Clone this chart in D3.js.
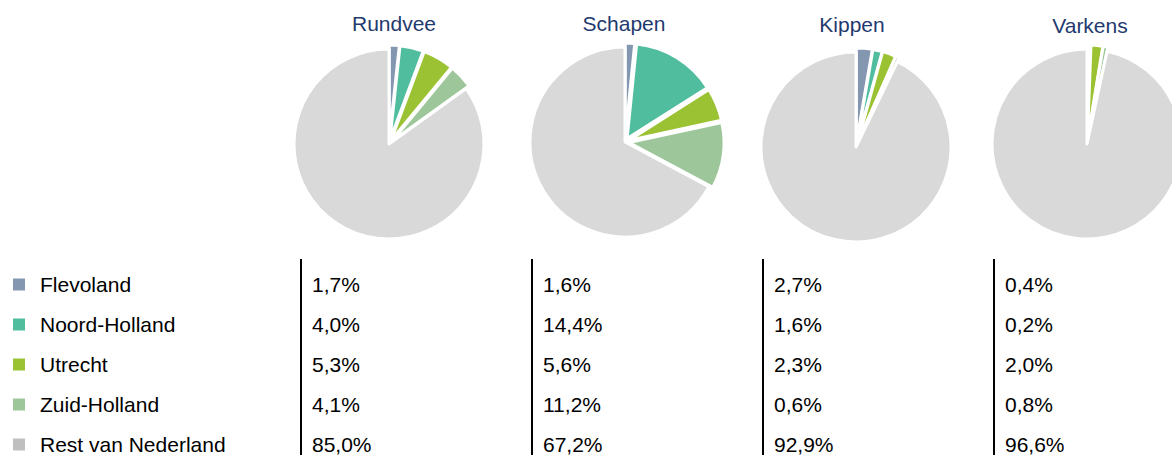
<!DOCTYPE html>
<html>
<head>
<meta charset="utf-8">
<script src="https://cdn.jsdelivr.net/npm/d3@7"></script>
<style>
  body { margin: 0; background: #fff; }
  svg { display: block; font-family: Arial, "Liberation Sans", sans-serif; }
</style>
</head>
<body>
<div id="chart"></div>
<script>
// data
const regions = ["Flevoland", "Noord-Holland", "Utrecht", "Zuid-Holland", "Rest van Nederland"];
const animals = ["Rundvee", "Schapen", "Kippen", "Varkens"];
const rundvee = [1.7, 4.0, 5.3, 4.1, 85.0];
const schapen = [1.6, 14.4, 5.6, 11.2, 67.2];
const kippen = [2.7, 1.6, 2.3, 0.6, 92.9];
const varkens = [0.4, 0.2, 2.0, 0.8, 96.6];
const seriesValues = [rundvee, schapen, kippen, varkens];

const pieColors = ["#8497b0", "#4fbd9e", "#9bc232", "#9dc69a", "#d9d9d9"];
const legendColors = ["#8497b0", "#4fbd9e", "#9bc232", "#9dc69a", "#bfbfbf"];

const width = 1172, height = 455;

const svg = d3.select("#chart").append("svg")
    .attr("width", width)
    .attr("height", height);

// columns: divider line x per animal
const colX = d3.scaleLinear().domain([0, 3]).range([301, 994]);
const rowY = d3.scaleLinear().domain([0, 4]).range([285, 445]);

const radius = 95;
const explode = 4;

const pie = d3.pie().sort(null).value(d => d);
const arc = d3.arc().innerRadius(0).outerRadius(radius);

// small per-pie nudges, the source layout isn't perfectly regular
const pieCy = [144, 142, 147, 144];
const pieDx = [88, 93, 93, 93];
const titleDx = [5, -1, -4, 3];
const titleY = [31, 31, 32, 33];

animals.forEach((name, i) => {
    const cx = colX(i) + pieDx[i];
    const cy = pieCy[i];

    svg.append("text")
        .attr("x", cx + titleDx[i])
        .attr("y", titleY[i])
        .attr("text-anchor", "middle")
        .style("font-size", "21px")
        .style("fill", "#1f3a6e")
        .text(name);

    const g = svg.append("g")
        .attr("transform", "translate(" + cx + "," + cy + ")");

    g.selectAll("path")
        .data(pie(seriesValues[i]))
        .enter().append("path")
        .attr("d", arc)
        .attr("transform", (d, j) => {
            if (j === 4) return null;
            const a = (d.startAngle + d.endAngle) / 2;
            return "translate(" + (Math.sin(a) * explode) + "," + (-Math.cos(a) * explode) + ")";
        })
        .style("fill", (d, j) => pieColors[j])
        .style("stroke", "white")
        .style("stroke-width", 3)
        .style("stroke-linejoin", "round");

    // divider
    svg.append("line")
        .attr("x1", colX(i)).attr("x2", colX(i))
        .attr("y1", 259).attr("y2", height)
        .style("stroke", "#000")
        .style("stroke-width", 2);

    // values
    svg.selectAll(".val" + i)
        .data(seriesValues[i])
        .enter().append("text")
        .attr("class", "val" + i)
        .attr("x", colX(i) + 11)
        .attr("y", (d, j) => rowY(j) + 7)
        .style("font-size", "21px")
        .style("fill", "#000")
        .text(d => d3.format(".1f")(d).replace(".", ",") + "%");
});

// legend
const legend = svg.selectAll(".legend")
    .data(regions)
    .enter().append("g")
    .attr("class", "legend")
    .attr("transform", (d, j) => "translate(0," + rowY(j) + ")");

legend.append("rect")
    .attr("x", 13)
    .attr("y", -6.5)
    .attr("width", 12)
    .attr("height", 12)
    .style("fill", (d, j) => legendColors[j]);

legend.append("text")
    .attr("x", 40)
    .attr("y", 7)
    .style("font-size", "21px")
    .style("fill", "#000")
    .text(d => d);
</script>
</body>
</html>
